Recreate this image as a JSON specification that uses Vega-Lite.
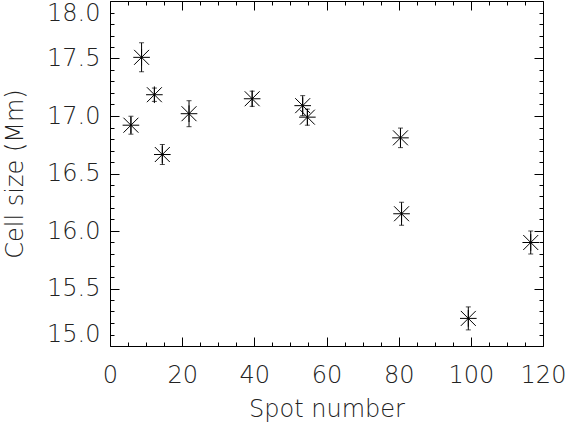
{
  "$schema": "https://vega.github.io/schema/vega-lite/v6.json",
  "autosize": "none",
  "width": 433,
  "height": 345,
  "padding": {"left": 110, "top": 1, "right": 23, "bottom": 78},
  "background": "white",
  "config": {
    "view": {"stroke": null},
    "axis": {
      "labelFont": "DejaVu Sans",
      "labelFontWeight": 200,
      "labelFontSize": 24,
      "labelColor": "#222222",
      "titleFont": "DejaVu Sans",
      "titleFontWeight": 200,
      "titleFontSize": 24,
      "titleColor": "#222222",
      "domainColor": "black",
      "tickColor": "black",
      "grid": false
    }
  },
  "data": {
    "values": [
      {"spot": 5.8, "size": 16.92, "lo": 16.842, "hi": 16.998},
      {"spot": 8.75, "size": 17.51, "lo": 17.384, "hi": 17.636},
      {"spot": 12.3, "size": 17.185, "lo": 17.127, "hi": 17.243},
      {"spot": 14.5, "size": 16.665, "lo": 16.578, "hi": 16.752},
      {"spot": 21.9, "size": 17.02, "lo": 16.907, "hi": 17.133},
      {"spot": 39.4, "size": 17.15, "lo": 17.084, "hi": 17.216},
      {"spot": 53.4, "size": 17.09, "lo": 17.003, "hi": 17.177},
      {"spot": 54.7, "size": 16.99, "lo": 16.92, "hi": 17.06},
      {"spot": 80.5, "size": 16.81, "lo": 16.725, "hi": 16.895},
      {"spot": 80.8, "size": 16.15, "lo": 16.05, "hi": 16.25},
      {"spot": 99.3, "size": 15.24, "lo": 15.14, "hi": 15.34},
      {"spot": 116.6, "size": 15.9, "lo": 15.8, "hi": 16.0}
    ]
  },
  "layer": [
    {
      "mark": {"type": "rule", "color": "black", "strokeWidth": 1},
      "encoding": {
        "x": {"field": "spot", "type": "quantitative",
          "scale": {"domain": [0, 120], "nice": false, "zero": false},
          "axis": {"orient": "bottom", "values": [0, 20, 40, 60, 80, 100, 120], "tickSize": -9, "labelPadding": 26, "title": "Spot number", "titlePadding": 10, "labelFlush": false}},
        "y": {"field": "lo", "type": "quantitative",
          "scale": {"domain": [15, 18], "nice": false, "zero": false},
          "axis": {"orient": "left", "values": [15, 15.5, 16, 16.5, 17, 17.5, 18], "format": ".1f", "tickSize": -9, "labelPadding": 19, "labelFlush": true, "title": "Cell size (Mm)", "titlePadding": 19}},
        "y2": {"field": "hi"}
      }
    },
    {
      "mark": {"type": "tick", "color": "black", "orient": "horizontal", "size": 5, "thickness": 1},
      "encoding": {
        "x": {"field": "spot", "type": "quantitative",
          "axis": {"orient": "top", "values": [0, 20, 40, 60, 80, 100, 120], "tickSize": -9, "labels": false, "title": null}},
        "y": {"field": "lo", "type": "quantitative",
          "axis": {"orient": "right", "values": [15, 15.5, 16, 16.5, 17, 17.5, 18], "tickSize": -9, "labels": false, "title": null}}
      }
    },
    {
      "mark": {"type": "tick", "color": "black", "orient": "horizontal", "size": 5, "thickness": 1},
      "encoding": {
        "x": {"field": "spot", "type": "quantitative",
          "axis": {"orient": "bottom", "values": [5, 10, 15, 25, 30, 35, 45, 50, 55, 65, 70, 75, 85, 90, 95, 105, 110, 115], "tickSize": -4, "labels": false, "domain": false, "title": null}},
        "y": {"field": "hi", "type": "quantitative",
          "axis": {"orient": "left", "values": [15.1, 15.2, 15.3, 15.4, 15.6, 15.7, 15.8, 15.9, 16.1, 16.2, 16.3, 16.4, 16.6, 16.7, 16.8, 16.9, 17.1, 17.2, 17.3, 17.4, 17.6, 17.7, 17.8, 17.9], "tickSize": -4, "labels": false, "domain": false, "title": null}}
      }
    },
    {
      "mark": {"type": "point", "shape": "M-1,0L1,0M0,-1L0,1M-0.9,-0.9L0.9,0.9M-0.9,0.9L0.9,-0.9", "size": 276, "filled": false, "color": "black", "strokeWidth": 1, "opacity": 1},
      "encoding": {
        "x": {"field": "spot", "type": "quantitative",
          "axis": {"orient": "top", "values": [5, 10, 15, 25, 30, 35, 45, 50, 55, 65, 70, 75, 85, 90, 95, 105, 110, 115], "tickSize": -4, "labels": false, "domain": false, "title": null}},
        "y": {"field": "size", "type": "quantitative",
          "axis": {"orient": "right", "values": [15.1, 15.2, 15.3, 15.4, 15.6, 15.7, 15.8, 15.9, 16.1, 16.2, 16.3, 16.4, 16.6, 16.7, 16.8, 16.9, 17.1, 17.2, 17.3, 17.4, 17.6, 17.7, 17.8, 17.9], "tickSize": -4, "labels": false, "domain": false, "title": null}}
      }
    }
  ],
  "resolve": {"axis": {"x": "independent", "y": "independent"}}
}
